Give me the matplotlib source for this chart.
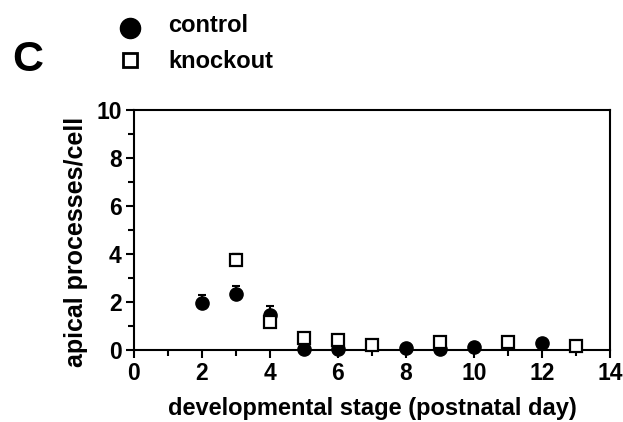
import matplotlib
matplotlib.use("Agg")
import matplotlib.pyplot as plt
import numpy as np
from matplotlib.lines import Line2D
from matplotlib.ticker import MultipleLocator

plt.rcParams["font.family"] = ["Liberation Sans", "DejaVu Sans"]
plt.rcParams["font.weight"] = "bold"

# postnatal day vs apical processes per cell (upper error bars only)
ctrl_day = [2, 3, 4, 5, 6, 8, 9, 10, 12]
ctrl_val = [1.96, 2.35, 1.44, 0.06, 0.05, 0.1, 0.05, 0.12, 0.28]
ctrl_err = [0.33, 0.32, 0.39, 0.0, 0.0, 0.0, 0.0, 0.0, 0.0]

ko_day = [3, 4, 5, 6, 7, 9, 11, 13]
ko_val = [3.77, 1.18, 0.49, 0.42, 0.2, 0.35, 0.35, 0.18]
ko_err = [0.25, 0.0, 0.0, 0.0, 0.0, 0.0, 0.0, 0.0]

W, H = 623, 422
fig = plt.figure(figsize=(W / 100, H / 100), dpi=100)
ax = fig.add_axes([134 / W, 1 - 350 / H, 476 / W, 240 / H])

ax.errorbar(ctrl_day, ctrl_val, yerr=[np.zeros(len(ctrl_err)), ctrl_err], fmt="o",
            color="black", ms=9.5, ecolor="black", elinewidth=1.5, capsize=3, capthick=1.5,
            clip_on=False, zorder=3)
ax.errorbar(ko_day, ko_val, yerr=[np.zeros(len(ko_err)), ko_err], fmt="s",
            mfc="white", mec="black", mew=1.6, ms=8.5, ecolor="black", elinewidth=1.5,
            capsize=3, capthick=1.5, clip_on=False, zorder=4)

ax.set_xlim(0, 14)
ax.set_ylim(0, 10)
ax.xaxis.set_major_locator(MultipleLocator(2))
ax.xaxis.set_minor_locator(MultipleLocator(1))
ax.yaxis.set_major_locator(MultipleLocator(2))
ax.yaxis.set_minor_locator(MultipleLocator(1))
ax.tick_params(which="both", direction="out", width=1.5, labelsize=16.5, pad=3)
ax.tick_params(which="major", length=6)
ax.tick_params(which="minor", length=4)
for s in ax.spines.values():
    s.set_linewidth(1.5)
for lab in ax.get_xticklabels() + ax.get_yticklabels():
    lab.set_fontweight("bold")

ax.set_xlabel("developmental stage (postnatal day)", fontsize=17, fontweight="bold", labelpad=8)
ax.set_ylabel("apical processes/cell", fontsize=18, fontweight="bold")
ax.yaxis.set_label_coords(-46 / 476, (350 - 242) / 240)

# legend drawn by hand at the top
fig.add_artist(Line2D([130 / W], [1 - 28 / H], transform=fig.transFigure, marker="o",
                      ms=14.5, color="black", linestyle="none"))
fig.add_artist(Line2D([130 / W], [1 - 60 / H], transform=fig.transFigure, marker="s",
                      ms=10.5, mfc="white", mec="black", mew=2, linestyle="none"))
fig.text(168 / W, 1 - 26 / H, "control", fontsize=17, fontweight="bold", va="center")
fig.text(168 / W, 1 - 61 / H, "knockout", fontsize=17, fontweight="bold", va="center")

fig.text(12 / W, 1 - 60 / H, "C", fontsize=31, fontweight="bold", va="center")

fig.savefig("out.png", dpi=100)
